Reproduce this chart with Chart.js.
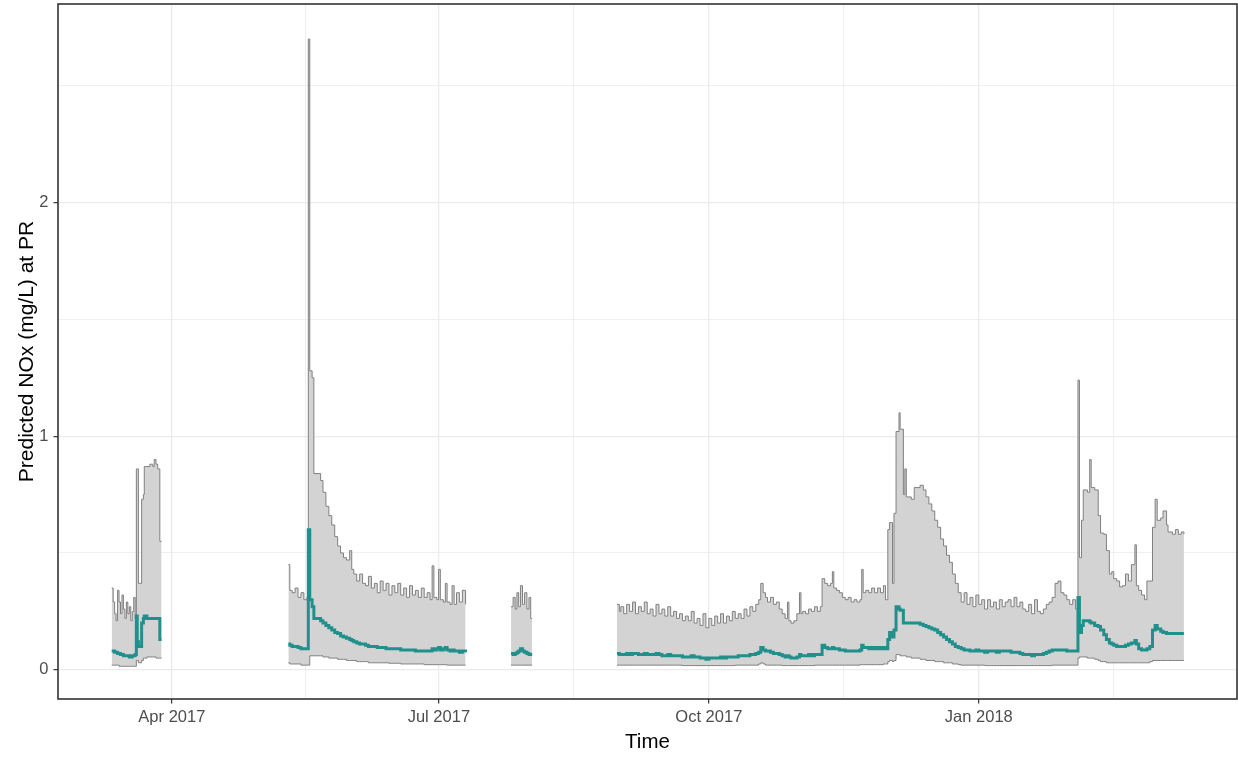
<!DOCTYPE html>
<html>
<head>
<meta charset="utf-8">
<title>Predicted NOx at PR</title>
<script src="https://cdn.jsdelivr.net/npm/chart.js@4.4.1/dist/chart.umd.min.js"></script>
<style>
  html, body { margin: 0; padding: 0; background: #ffffff; }
  canvas { display: block; }
</style>
</head>
<body>
<canvas id="nox" width="1238" height="757" style="width:1238px;height:757px"></canvas>
<script>
// Time is counted in days since 1 Jan 2017; null rows are breaks between monitoring periods.
const day = [
  // 11 Mar - 27 Mar 2017
  69.5, 70, 70.5, 71, 71.5, 72, 72.5, 73,
  73.5, 74, 74.5, 75, 75.5, 76, 76.5, 77,
  77.5, 77.9, 78.2, 78.6, 79, 79.7, 80.3, 80.6,
  81.5, 82.5, 83.5, 84, 84.6, 85.2, 85.9, 86.5,
  100,
  // 10 May - 10 Jul 2017
  129.7, 130.2, 131, 132, 133, 134, 135, 136, 136.5, 137,
  137.8, 138.4, 139.5, 140.7, 141.5, 142.5, 143.5, 144.5, 145.5, 146.5,
  147.5, 148.5, 149.5, 150.6, 151.3, 152, 153, 154, 155, 156,
  157, 158, 159, 160, 161, 162, 163, 164, 165, 166,
  167, 168, 169, 170, 171, 172, 173, 174, 175, 176,
  177, 178, 178.7, 179.3, 180.3, 180.9, 181.5, 182.5, 183.2, 183.8,
  184.8, 185.5, 186.2, 187, 188, 189, 190.1,
  198,
  // 25 Jul - 1 Aug 2017
  205.6, 206.3, 207, 207.6, 208.2, 208.8, 209.5, 210.2, 211, 211.7,
  212.3, 212.8,
  225,
  // 30 Aug 2017 - 11 Mar 2018
  241.7, 242.5, 243, 244, 245, 246, 247, 248, 249, 250,
  251, 252, 253, 254, 255, 256, 257, 258, 259, 260,
  261, 262, 263, 264, 265, 266, 267, 268, 269, 270,
  271, 272, 273, 274, 275, 276, 277, 278, 279, 280,
  281, 282, 283, 284, 285, 286, 287, 288, 289, 290,
  290.7, 291.5, 292.3, 293, 294, 295, 296, 297, 298, 299,
  299.8, 300.3, 301, 302, 303, 303.9, 304.4, 305, 306, 307,
  308, 309, 310, 311, 311.6, 312.5, 313.5, 314.5, 315.1, 315.6,
  316.5, 317.5, 318.5, 319.5, 320.5, 321.5, 322.5, 323.5, 324.5, 325.1,
  325.6, 326.5, 327.5, 328.5, 329.5, 330.5, 331.5, 332.5, 333.2, 334,
  334.6, 335.6, 336.1, 336.8, 337.8, 338.2, 339.3, 339.8, 340.3, 342,
  343, 345, 346.1, 347, 348, 349, 350, 351, 352, 353,
  354, 355, 356, 357, 358, 359, 360, 361, 362, 363,
  364, 365, 366, 367, 368, 369, 370, 371, 372, 373,
  374, 375, 376, 377, 378, 379, 380, 381, 382, 383,
  384, 385, 386, 387, 388, 389, 390, 391, 392, 393,
  394, 395, 396, 397, 398, 398.8, 399.3, 400, 400.6, 402,
  402.8, 403.3, 404.5, 405.7, 406.5, 407.6, 408.5, 409.5, 410.3, 411,
  412, 413, 414, 415, 416, 417, 418.2, 418.7, 419.5, 420.5,
  421.5, 422.3, 423.3, 424.2, 425.1, 425.8, 427, 427.8, 429, 429.5,
  431, 432, 433, 434, 434.9
];

// Upper bound of the prediction interval (mg/L)
const upperBound = [
  0.35, 0.29, 0.24, 0.21, 0.34, 0.29, 0.24, 0.32,
  0.26, 0.22, 0.29, 0.24, 0.27, 0.21, 0.25, 0.31,
  0.22, 0.86, 0.86, 0.37, 0.37, 0.73, 0.75, 0.87,
  0.87, 0.88, 0.87, 0.90, 0.88, 0.86, 0.55, 0.55,
  null,
  0.45, 0.34, 0.33, 0.35, 0.31, 0.33, 0.30, 0.31, 2.70, 1.28,
  1.25, 0.84, 0.84, 0.81, 0.76, 0.70, 0.66, 0.62, 0.57, 0.53,
  0.50, 0.48, 0.47, 0.51, 0.43, 0.41, 0.38, 0.41, 0.37, 0.36,
  0.40, 0.35, 0.37, 0.33, 0.38, 0.34, 0.37, 0.32, 0.36, 0.33,
  0.37, 0.32, 0.35, 0.31, 0.36, 0.32, 0.34, 0.31, 0.35, 0.31,
  0.33, 0.30, 0.445, 0.31, 0.30, 0.43, 0.30, 0.29, 0.37, 0.29,
  0.28, 0.36, 0.28, 0.33, 0.29, 0.34, 0.28,
  null,
  0.27, 0.31, 0.26, 0.33, 0.27, 0.36, 0.28, 0.33, 0.26, 0.31,
  0.22, 0.22,
  null,
  0.28, 0.25, 0.27, 0.24, 0.28, 0.25, 0.29, 0.24, 0.27, 0.25,
  0.29, 0.24, 0.26, 0.23, 0.28, 0.24, 0.26, 0.23, 0.27, 0.23,
  0.25, 0.22, 0.24, 0.21, 0.23, 0.21, 0.25, 0.20, 0.22, 0.19,
  0.24, 0.18, 0.22, 0.19, 0.23, 0.20, 0.24, 0.20, 0.23, 0.21,
  0.25, 0.22, 0.24, 0.22, 0.26, 0.23, 0.27, 0.25, 0.28, 0.30,
  0.37, 0.33, 0.31, 0.29, 0.31, 0.28, 0.29, 0.26, 0.24, 0.22,
  0.29, 0.21, 0.20, 0.21, 0.24, 0.33, 0.24, 0.25, 0.24, 0.26,
  0.25, 0.27, 0.25, 0.27, 0.39, 0.37, 0.36, 0.37, 0.42, 0.35,
  0.34, 0.33, 0.31, 0.30, 0.31, 0.29, 0.30, 0.29, 0.30, 0.43,
  0.33, 0.34, 0.33, 0.35, 0.33, 0.35, 0.33, 0.36, 0.30, 0.60,
  0.63, 0.37, 0.67, 1.02, 1.10, 1.03, 0.75, 0.86, 0.74, 0.73,
  0.78, 0.79, 0.77, 0.74, 0.71, 0.68, 0.64, 0.61, 0.56, 0.53,
  0.49, 0.46, 0.41, 0.37, 0.33, 0.29, 0.33, 0.28, 0.31, 0.27,
  0.32, 0.28, 0.30, 0.26, 0.30, 0.27, 0.29, 0.26, 0.30, 0.27,
  0.29, 0.30, 0.27, 0.31, 0.27, 0.29, 0.26, 0.25, 0.28, 0.24,
  0.30, 0.25, 0.24, 0.26, 0.28, 0.29, 0.31, 0.37, 0.38, 0.33,
  0.32, 0.30, 0.28, 0.30, 0.26, 1.24, 0.48, 0.64, 0.77, 0.76,
  0.90, 0.78, 0.77, 0.66, 0.585, 0.58, 0.51, 0.41, 0.42, 0.39,
  0.38, 0.355, 0.36, 0.41, 0.38, 0.45, 0.535, 0.36, 0.34, 0.32,
  0.30, 0.38, 0.38, 0.61, 0.73, 0.64, 0.65, 0.68, 0.62, 0.59,
  0.58, 0.60, 0.58, 0.59, 0.58
];

// Predicted NOx (mg/L)
const meanNOx = [
  0.08, 0.08, 0.075, 0.075, 0.07, 0.07, 0.065, 0.065,
  0.06, 0.06, 0.06, 0.06, 0.055, 0.055, 0.06, 0.06,
  0.065, 0.23, 0.12, 0.10, 0.10, 0.20, 0.22, 0.23,
  0.22, 0.22, 0.22, 0.22, 0.22, 0.22, 0.13, 0.13,
  null,
  0.11, 0.105, 0.10, 0.10, 0.095, 0.09, 0.09, 0.09, 0.60, 0.30,
  0.27, 0.22, 0.22, 0.21, 0.20, 0.19, 0.18, 0.17, 0.16, 0.155,
  0.145, 0.14, 0.135, 0.13, 0.125, 0.12, 0.115, 0.11, 0.11, 0.105,
  0.10, 0.10, 0.10, 0.095, 0.095, 0.095, 0.09, 0.09, 0.09, 0.09,
  0.09, 0.085, 0.085, 0.085, 0.085, 0.085, 0.08, 0.08, 0.08, 0.08,
  0.08, 0.08, 0.09, 0.085, 0.09, 0.095, 0.085, 0.09, 0.095, 0.085,
  0.08, 0.085, 0.08, 0.08, 0.075, 0.08, 0.075,
  null,
  0.07, 0.065, 0.07, 0.075, 0.08, 0.09, 0.08, 0.075, 0.07, 0.065,
  0.065, 0.065,
  null,
  0.07, 0.065, 0.065, 0.065, 0.07, 0.065, 0.07, 0.07, 0.065, 0.065,
  0.07, 0.065, 0.065, 0.065, 0.07, 0.065, 0.06, 0.06, 0.065, 0.06,
  0.06, 0.06, 0.06, 0.055, 0.055, 0.055, 0.06, 0.055, 0.055, 0.05,
  0.05, 0.045, 0.05, 0.05, 0.05, 0.05, 0.055, 0.05, 0.055, 0.055,
  0.055, 0.055, 0.06, 0.06, 0.06, 0.06, 0.065, 0.065, 0.07, 0.075,
  0.095, 0.085, 0.08, 0.08, 0.075, 0.07, 0.07, 0.065, 0.06, 0.055,
  0.06, 0.055, 0.05, 0.05, 0.055, 0.065, 0.06, 0.06, 0.06, 0.065,
  0.06, 0.065, 0.065, 0.065, 0.105, 0.095, 0.09, 0.09, 0.095, 0.09,
  0.09, 0.085, 0.085, 0.08, 0.08, 0.08, 0.08, 0.08, 0.085, 0.105,
  0.095, 0.095, 0.09, 0.095, 0.09, 0.095, 0.09, 0.095, 0.09, 0.13,
  0.16, 0.14, 0.17, 0.27, 0.26, 0.255, 0.20, 0.20, 0.20, 0.20,
  0.20, 0.195, 0.19, 0.185, 0.18, 0.175, 0.17, 0.16, 0.15, 0.14,
  0.13, 0.12, 0.11, 0.10, 0.095, 0.09, 0.085, 0.085, 0.08, 0.08,
  0.085, 0.08, 0.08, 0.075, 0.08, 0.08, 0.08, 0.075, 0.08, 0.08,
  0.08, 0.08, 0.075, 0.075, 0.075, 0.07, 0.065, 0.065, 0.065, 0.06,
  0.065, 0.065, 0.065, 0.07, 0.075, 0.08, 0.085, 0.085, 0.085, 0.085,
  0.085, 0.08, 0.08, 0.08, 0.08, 0.31, 0.16, 0.19, 0.21, 0.21,
  0.205, 0.20, 0.19, 0.185, 0.17, 0.15, 0.13, 0.115, 0.11, 0.105,
  0.10, 0.10, 0.10, 0.105, 0.11, 0.115, 0.125, 0.11, 0.09, 0.085,
  0.085, 0.09, 0.10, 0.17, 0.19, 0.175, 0.165, 0.16, 0.155, 0.155,
  0.155, 0.155, 0.155, 0.155, 0.155
];

// Lower bound of the prediction interval (mg/L)
const lowerBound = [
  0.02, 0.02, 0.02, 0.02, 0.02, 0.015, 0.015, 0.015,
  0.015, 0.015, 0.015, 0.015, 0.015, 0.015, 0.015, 0.015,
  0.015, 0.04, 0.04, 0.03, 0.03, 0.04, 0.05, 0.05,
  0.055, 0.055, 0.055, 0.055, 0.05, 0.05, 0.05, 0.05,
  null,
  0.03, 0.025, 0.025, 0.025, 0.025, 0.02, 0.02, 0.02, 0.02, 0.06,
  0.06, 0.06, 0.06, 0.06, 0.055, 0.055, 0.05, 0.05, 0.05, 0.045,
  0.045, 0.045, 0.04, 0.04, 0.04, 0.04, 0.035, 0.035, 0.035, 0.035,
  0.03, 0.03, 0.03, 0.03, 0.03, 0.03, 0.03, 0.028, 0.028, 0.028,
  0.028, 0.025, 0.025, 0.025, 0.025, 0.025, 0.025, 0.025, 0.025, 0.022,
  0.022, 0.022, 0.022, 0.022, 0.022, 0.022, 0.022, 0.022, 0.022, 0.02,
  0.02, 0.02, 0.02, 0.02, 0.02, 0.02, 0.02,
  null,
  0.02, 0.02, 0.02, 0.02, 0.02, 0.02, 0.02, 0.02, 0.02, 0.02,
  0.02, 0.02,
  null,
  0.02, 0.02, 0.02, 0.02, 0.02, 0.02, 0.02, 0.02, 0.02, 0.02,
  0.02, 0.02, 0.02, 0.02, 0.02, 0.02, 0.02, 0.02, 0.02, 0.02,
  0.02, 0.02, 0.02, 0.018, 0.018, 0.018, 0.018, 0.018, 0.018, 0.018,
  0.018, 0.018, 0.018, 0.018, 0.018, 0.018, 0.018, 0.018, 0.018, 0.018,
  0.018, 0.02, 0.02, 0.02, 0.02, 0.02, 0.02, 0.02, 0.02, 0.025,
  0.03, 0.025, 0.02, 0.02, 0.02, 0.02, 0.02, 0.02, 0.018, 0.018,
  0.018, 0.018, 0.018, 0.018, 0.018, 0.018, 0.018, 0.018, 0.018, 0.018,
  0.018, 0.02, 0.02, 0.02, 0.02, 0.02, 0.02, 0.02, 0.02, 0.02,
  0.02, 0.02, 0.02, 0.02, 0.02, 0.02, 0.02, 0.02, 0.022, 0.022,
  0.022, 0.022, 0.022, 0.022, 0.022, 0.022, 0.022, 0.025, 0.025, 0.035,
  0.04, 0.035, 0.04, 0.065, 0.065, 0.06, 0.06, 0.06, 0.055, 0.05,
  0.05, 0.045, 0.045, 0.04, 0.04, 0.04, 0.035, 0.035, 0.035, 0.03,
  0.03, 0.03, 0.025, 0.025, 0.022, 0.02, 0.02, 0.02, 0.02, 0.02,
  0.02, 0.02, 0.02, 0.018, 0.018, 0.018, 0.018, 0.018, 0.018, 0.018,
  0.018, 0.018, 0.018, 0.018, 0.018, 0.018, 0.018, 0.018, 0.018, 0.018,
  0.018, 0.018, 0.018, 0.018, 0.018, 0.018, 0.02, 0.02, 0.02, 0.02,
  0.02, 0.02, 0.02, 0.02, 0.02, 0.05, 0.055, 0.055, 0.055, 0.05,
  0.05, 0.05, 0.045, 0.04, 0.035, 0.035, 0.03, 0.03, 0.03, 0.03,
  0.03, 0.03, 0.03, 0.03, 0.03, 0.03, 0.03, 0.03, 0.03, 0.03,
  0.03, 0.03, 0.035, 0.04, 0.04, 0.04, 0.04, 0.04, 0.04, 0.04,
  0.04, 0.04, 0.04, 0.04, 0.04
];

// Axis breaks (days since 1 Jan 2017)
const majorDays = [90, 181, 273, 365];
const tickLabels = ['Apr 2017', 'Jul 2017', 'Oct 2017', 'Jan 2018'];
const minorDays = [135.5, 227, 319, 411];
const yMajor = [0, 1, 2];
const yMinor = [0.5, 1.5, 2.5];

[upperBound, meanNOx, lowerBound].forEach((s) => {
  if (s.length !== day.length) throw new Error('series length ' + s.length + ' vs ' + day.length);
});

const FONT = "'Liberation Sans', Arial, Helvetica, sans-serif";
const GRID = '#EBEBEB';
const has = (list, v) => list.some((m) => Math.abs(m - v) < 1e-9);
const points = (vals) => day.map((d, i) => ({ x: d, y: vals[i] }));

// ggplot-style closed panel frame
const panelBorder = {
  id: 'panelBorder',
  afterDraw(chart) {
    const { ctx, chartArea: a } = chart;
    ctx.save();
    ctx.strokeStyle = '#333333';
    ctx.lineWidth = 1.6;
    ctx.strokeRect(a.left, a.top, a.right - a.left, a.bottom - a.top);
    ctx.restore();
  }
};

const lineBase = { pointRadius: 0, pointHoverRadius: 0, stepped: true, spanGaps: false, tension: 0 };

new Chart(document.getElementById('nox'), {
  type: 'line',
  data: {
    datasets: [
      Object.assign({}, lineBase, {
        label: 'Predicted NOx',
        data: points(meanNOx),
        borderColor: '#21908C',
        borderWidth: 3,
        fill: false,
        order: 1
      }),
      Object.assign({}, lineBase, {
        label: 'Upper bound',
        data: points(upperBound),
        borderColor: '#808080',
        borderWidth: 1,
        backgroundColor: '#D3D3D3',
        fill: '+1',
        order: 3
      }),
      Object.assign({}, lineBase, {
        label: 'Lower bound',
        data: points(lowerBound),
        borderColor: '#808080',
        borderWidth: 1,
        fill: false,
        order: 2
      })
    ]
  },
  options: {
    responsive: false,
    animation: false,
    devicePixelRatio: 1,
    layout: { padding: { top: 4, right: 1, left: 0, bottom: 0 } },
    plugins: { legend: { display: false }, tooltip: { enabled: false } },
    scales: {
      x: {
        type: 'linear',
        min: 51.2,
        max: 453,
        afterBuildTicks: (s) => {
          s.ticks = majorDays.concat(minorDays).sort((a, b) => a - b).map((v) => ({ value: v }));
        },
        afterFit: (s) => {
          s.height = 58;
          s.paddingLeft = 0;
          s.paddingRight = 0;
        },
        border: { display: false },
        grid: {
          color: GRID,
          lineWidth: (c) => (c.tick && has(minorDays, c.tick.value)) ? 0.8 : 1.3,
          tickColor: (c) => (c.tick && has(minorDays, c.tick.value)) ? 'rgba(0,0,0,0)' : '#333333',
          tickWidth: 1.2,
          tickLength: 4.5
        },
        ticks: {
          autoSkip: false,
          maxRotation: 0,
          padding: 4,
          color: '#4D4D4D',
          font: { family: FONT, size: 16.5 },
          callback: (v) => { const i = majorDays.indexOf(v); return i >= 0 ? tickLabels[i] : ''; }
        },
        title: {
          display: true,
          text: 'Time',
          color: '#000000',
          font: { family: FONT, size: 20.5 },
          padding: { top: 0, bottom: 2 }
        }
      },
      y: {
        type: 'linear',
        min: -0.125,
        max: 2.85,
        afterBuildTicks: (s) => {
          s.ticks = yMajor.concat(yMinor).sort((a, b) => a - b).map((v) => ({ value: v }));
        },
        afterFit: (s) => {
          s.width = 58;
          s.paddingTop = 0;
          s.paddingBottom = 0;
        },
        border: { display: false },
        grid: {
          color: GRID,
          lineWidth: (c) => (c.tick && has(yMinor, c.tick.value)) ? 0.8 : 1.3,
          tickColor: (c) => (c.tick && has(yMinor, c.tick.value)) ? 'rgba(0,0,0,0)' : '#333333',
          tickWidth: 1.2,
          tickLength: 4.5
        },
        ticks: {
          padding: 5,
          color: '#4D4D4D',
          font: { family: FONT, size: 16.5 },
          callback: (v) => has(yMajor, v) ? String(v) : ''
        },
        title: {
          display: true,
          text: 'Predicted NOx (mg/L) at PR',
          color: '#000000',
          font: { family: FONT, size: 21 },
          padding: { top: 15, bottom: 0 }
        }
      }
    }
  },
  plugins: [panelBorder]
});
</script>
</body>
</html>
